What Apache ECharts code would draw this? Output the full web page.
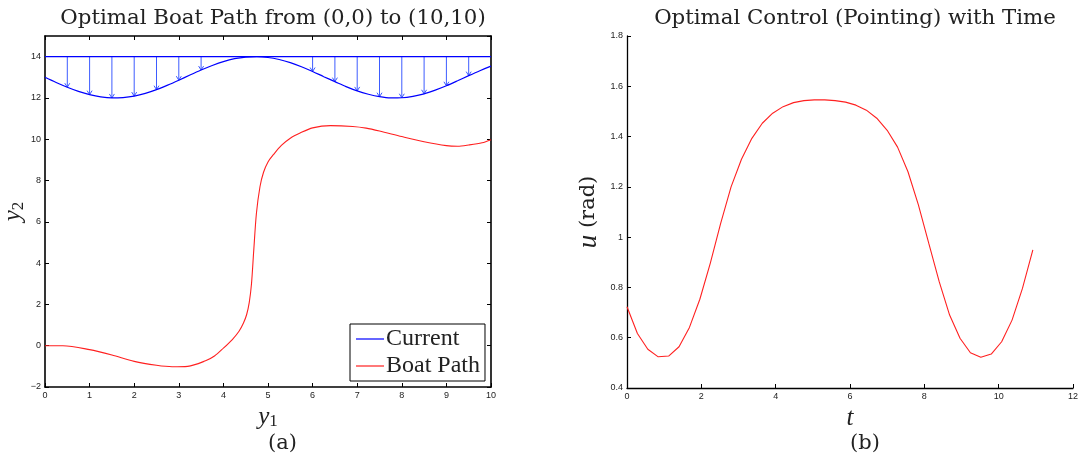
<!DOCTYPE html>
<html>
<head>
<meta charset="utf-8">
<script src="https://cdn.jsdelivr.net/npm/echarts@6/dist/echarts.min.js"></script>
<style>html,body{margin:0;padding:0;background:#fff;}#c{width:1082px;height:466px;}</style>
</head>
<body>
<div id="c"></div>
<script>
// ---- Panel (a): current field ----
const currentX = [0,0.25,0.5,0.75,1,1.25,1.5,1.75,2,2.25,2.5,2.75,3,3.25,3.5,3.75,4,4.25,4.5,4.75,5,5.25,5.5,5.75,6,6.25,6.5,6.75,7,7.25,7.5,7.75,8,8.25,8.5,8.75,9,9.25,9.5,9.75,10];
const currentY = [13,12.75,12.52,12.32,12.16,12.05,12.0,12.02,12.09,12.22,12.40,12.62,12.86,13.11,13.35,13.57,13.76,13.90,13.98,14.0,13.96,13.86,13.71,13.51,13.28,13.03,12.79,12.55,12.34,12.18,12.06,12.0,12.01,12.08,12.20,12.38,12.59,12.83,13.08,13.32,13.54];
const currentTopX = [0,10];
const currentTopY = [14,14];
const arrowX   = [0.5,1,1.5,2,2.5,3,3.5,6,6.5,7,7.5,8,8.5,9,9.5];
const arrowTip = [12.52,12.16,12.0,12.09,12.40,12.86,13.35,13.28,12.79,12.34,12.06,12.01,12.20,12.59,13.08];
// ---- Panel (a): boat path ----
const boatX = [0,0.4,1.0,1.5,2.0,2.5,2.85,3.2,3.6,3.8,4.0,4.2,4.35,4.45,4.52,4.58,4.63,4.68,4.74,4.82,4.9,5.0,5.12,5.3,5.5,5.72,6.0,6.4,6.9,7.2,7.5,8.0,8.5,9.0,9.25,9.5,9.8,10];
const boatY = [0,0,-0.19,-0.45,-0.76,-0.95,-1.02,-1.0,-0.73,-0.5,-0.12,0.3,0.7,1.1,1.5,2.1,3.0,4.6,6.4,7.7,8.4,8.9,9.25,9.7,10.05,10.3,10.55,10.66,10.62,10.54,10.40,10.13,9.88,9.69,9.66,9.72,9.83,9.98];
// ---- Panel (b): control ----
const tValues = [0,0.28,0.56,0.84,1.12,1.40,1.68,1.96,2.24,2.52,2.80,3.08,3.36,3.64,3.92,4.20,4.48,4.76,5.04,5.32,5.60,5.88,6.16,6.44,6.72,7.00,7.28,7.56,7.84,8.12,8.40,8.68,8.96,9.24,9.52,9.80,10.08,10.36,10.64,10.92];
const uValues = [0.723,0.617,0.554,0.524,0.527,0.564,0.641,0.753,0.896,1.055,1.200,1.310,1.393,1.453,1.493,1.519,1.535,1.543,1.546,1.546,1.543,1.537,1.525,1.505,1.473,1.425,1.358,1.260,1.128,0.975,0.823,0.690,0.598,0.540,0.522,0.535,0.584,0.670,0.796,0.949];

const zip = (a,b) => a.map((v,i)=>[v,b[i]]);
const SERIF = '"Liberation Serif", "DejaVu Serif", serif';
const TSERIF = '"DejaVu Serif", "Liberation Serif", serif';
const SANS = '"Liberation Sans", Arial, sans-serif';
const minus = v => String(v).replace('-', '\u2212');

const tickLbl = {fontFamily: SANS, fontSize: 9, color: '#222', margin: 4};
const axLine = w => ({show: true, onZero: false, lineStyle: {color: '#000', width: w}});
const tick = {show: true, inside: true, length: 4, lineStyle: {color: '#000', width: 1}};

const chart = echarts.init(document.getElementById('c'), null, {renderer: 'canvas'});
chart.setOption({
  animation: false,
  backgroundColor: '#fff',
  title: [
    {text: 'Optimal Boat Path from (0,0) to (10,10)', left: 268, top: 3, textAlign: 'center',
     textStyle: {fontFamily: TSERIF, fontSize: 21.3, fontWeight: 'normal', color: '#222'}},
    {text: 'Optimal Control (Pointing) with Time', left: 850, top: 3, textAlign: 'center',
     textStyle: {fontFamily: TSERIF, fontSize: 21.3, fontWeight: 'normal', color: '#222'}}
  ],
  legend: {
    data: ['Current', 'Boat Path'],
    left: 350, top: 324, orient: 'vertical',
    backgroundColor: '#fff', borderColor: '#000', borderWidth: 1, borderRadius: 0,
    padding: [3, 5, 3, 6], itemGap: 3, itemWidth: 28, itemHeight: 1.2, icon: 'rect',
    textStyle: {fontFamily: SERIF, fontSize: 24, color: '#222', padding: [0,0,0,-3]},
    selectedMode: false
  },
  grid: [
    {left: 45, top: 36, width: 446, height: 351, containLabel: false},
    {left: 627, top: 36, width: 446, height: 352, containLabel: false}
  ],
  xAxis: [
    {type: 'value', gridIndex: 0, min: 0, max: 10, interval: 1, position: 'bottom',
     axisLine: axLine(1.6), axisTick: tick, splitLine: {show: false},
     axisLabel: Object.assign({}, tickLbl),
     name: '{i|y}{s|1}', nameLocation: 'middle', nameGap: 8,
     nameTextStyle: {rich: {i: {fontFamily: SERIF, fontStyle: 'italic', fontSize: 25, color: '#222'},
                            s: {fontFamily: SERIF, fontSize: 17, color: '#222', padding: [9,0,0,0]}}}},
    {type: 'value', gridIndex: 0, min: 0, max: 10, interval: 1, position: 'top',
     axisLine: axLine(1.6), axisTick: tick, axisLabel: {show: false}, splitLine: {show: false}},
    {type: 'value', gridIndex: 1, min: 0, max: 12, interval: 2, position: 'bottom',
     axisLine: axLine(1.3), axisTick: tick, splitLine: {show: false},
     axisLabel: Object.assign({}, tickLbl),
     name: 't', nameLocation: 'middle', nameGap: 6,
     nameTextStyle: {fontFamily: SERIF, fontStyle: 'italic', fontSize: 25, color: '#222'}}
  ],
  yAxis: [
    {type: 'value', gridIndex: 0, min: -2, max: 15, interval: 2, position: 'left',
     axisLine: axLine(1.6), axisTick: tick, splitLine: {show: false},
     axisLabel: Object.assign({}, tickLbl, {showMaxLabel: false, formatter: minus}),
     name: '{i|y}{s|2}', nameLocation: 'middle', nameGap: 17,
     nameTextStyle: {rich: {i: {fontFamily: SERIF, fontStyle: 'italic', fontSize: 25, color: '#222'},
                            s: {fontFamily: SERIF, fontSize: 17, color: '#222', padding: [9,0,0,0]}}}},
    {type: 'value', gridIndex: 0, min: -2, max: 15, interval: 2, position: 'right',
     axisLine: axLine(1.6), axisTick: tick, axisLabel: {show: false}, splitLine: {show: false}},
    {type: 'value', gridIndex: 1, min: 0.4, max: 1.8, interval: 0.2, position: 'left',
     axisLine: axLine(1.3), axisTick: tick, splitLine: {show: false},
     axisLabel: Object.assign({}, tickLbl, {formatter: v => String(Math.round(v*10)/10)}),
     name: '{i|u} (rad)', nameLocation: 'middle', nameGap: 25,
     nameTextStyle: {fontFamily: TSERIF, fontSize: 21, color: '#222',
                     rich: {i: {fontFamily: SERIF, fontStyle: 'italic', fontSize: 27, color: '#222'}}}}
  ],
  series: [
    {type: 'custom', name: 'arrows', xAxisIndex: 0, yAxisIndex: 0, silent: true,
     data: arrowX.map((x,i)=>[x, 14, arrowTip[i]]),
     renderItem: function (params, api) {
       const p0 = api.coord([api.value(0), api.value(1)]);
       const p1 = api.coord([api.value(0), api.value(2)]);
       const col = '#3d5cff';
       return {type: 'group', children: [
         {type: 'line', shape: {x1: p0[0], y1: p0[1], x2: p1[0], y2: p1[1]},
          style: {stroke: col, lineWidth: 1}},
         {type: 'polyline', shape: {points: [[p1[0]-2.5, p1[1]-4], [p1[0], p1[1]], [p1[0]+2.5, p1[1]-4]]},
          style: {stroke: col, fill: null, lineWidth: 1}}
       ]};
     }},
    {type: 'line', name: 'Current', xAxisIndex: 0, yAxisIndex: 0, data: zip(currentTopX, currentTopY),
     showSymbol: false, symbol: 'none', lineStyle: {color: '#0000ff', width: 1.2}, itemStyle: {color: '#0000ff'}},
    {type: 'line', name: 'Current', xAxisIndex: 0, yAxisIndex: 0, data: zip(currentX, currentY), smooth: 0.3,
     showSymbol: false, symbol: 'none', lineStyle: {color: '#0000ff', width: 1.2}, itemStyle: {color: '#0000ff'}},
    {type: 'line', name: 'Boat Path', xAxisIndex: 0, yAxisIndex: 0, data: zip(boatX, boatY), smooth: 0.3,
     showSymbol: false, symbol: 'none', lineStyle: {color: '#ff2020', width: 1.1}, itemStyle: {color: '#ff2020'}},
    {type: 'line', name: 'u', xAxisIndex: 2, yAxisIndex: 2, data: zip(tValues, uValues),
     showSymbol: false, symbol: 'none', lineStyle: {color: '#ff2020', width: 1.1}, itemStyle: {color: '#ff2020'}}
  ],
  graphic: [
    {type: 'text', left: 268, top: 433, style: {text: '(a)', font: '21px ' + TSERIF, fill: '#222', textAlign: 'center'}},
    {type: 'text', left: 850, top: 433, style: {text: '(b)', font: '21px ' + TSERIF, fill: '#222', textAlign: 'center'}}
  ]
});
</script>
</body>
</html>
